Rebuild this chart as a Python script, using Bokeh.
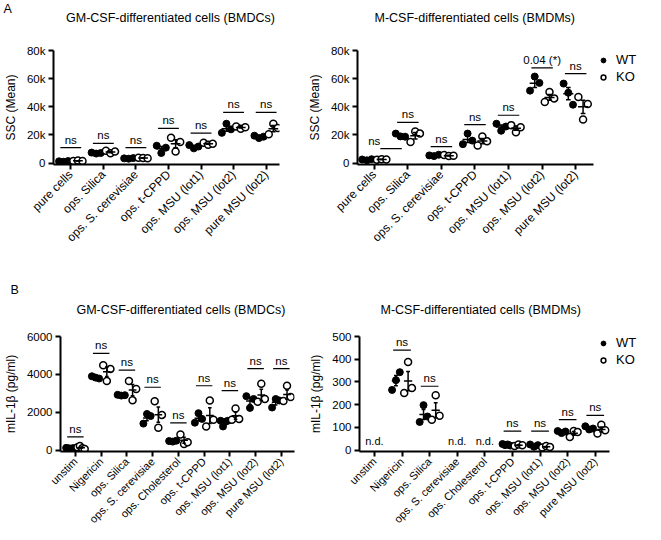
import math
import numpy as np
from bokeh.plotting import figure
from bokeh.models import (Range1d, FixedTicker, NumeralTickFormatter, BasicTickFormatter,
                          Title, Legend, LegendItem)
from bokeh.layouts import row, column
from bokeh.embed import file_html
from bokeh.resources import INLINE
from bokeh.core.properties import value

FONT = "Liberation Sans"
NBSP = "\u00a0"

# ---------------- data ----------------
ssc_categories = ["pure cells", "ops. Silica", "ops. S. cerevisiae", "ops. t-CPPD",
                  "ops. MSU (lot1)", "ops. MSU (lot2)", "pure MSU (lot2)"]
il_categories = ["unstim", "Nigericin", "ops. Silica", "ops. S. cerevisiae", "ops. Cholesterol",
                 "ops. t-CPPD", "ops. MSU (lot1)", "ops. MSU (lot2)", "pure MSU (lot2)"]

# Panel A, BMDCs (SSC mean)
ssc_bmdc_wt = [[1300, 1000, 1500], [7500, 6800, 7200], [3400, 3200, 3600], [12400, 7200, 11000],
               [12800, 10500, 11800], [21500, 28000, 24000], [19500, 17800, 18800]]
ssc_bmdc_ko = [[1600, 1900, 1500], [8800, 7000, 8200], [3800, 3600, 3500], [18000, 8300, 15000],
               [14500, 13000, 13800], [26000, 24500, 25500], [20500, 28000, 25000]]
ssc_bmdc_sig = ["ns", "ns", "ns", "ns", "ns", "ns", "ns"]
ssc_bmdc_sig_y = [11000, 14000, 11000, 24700, 21300, 36000, 36000]

# Panel A, BMDMs (SSC mean)
ssc_bmdm_wt = [[2600, 2000, 2800], [21000, 19000, 18800], [5500, 5000, 6000], [13500, 21000, 16000],
               [28000, 23000, 26000], [51500, 61500, 57000], [56500, 50000, 41500]]
ssc_bmdm_ko = [[2500, 2800, 2600], [15000, 22500, 21000], [5800, 5000, 5200], [12500, 19000, 15500],
               [27000, 22000, 25500], [43500, 50500, 46000], [47000, 31000, 42000]]
ssc_bmdm_sig = ["ns", "ns", "ns", "ns", "ns", "0.04 (*)", "ns"]
ssc_bmdm_sig_y = [10300, 28900, 11800, 27400, 34000, 67700, 63600]

# Panel B, BMDCs (mIL-1beta pg/ml)
il_bmdc_wt = [[120, 100, 80, 110], [3900, 3830, 3780], [2920, 2880, 2900], [1400, 1910, 1800],
              [480, 450, 500], [1450, 1950, 1650], [1550, 1250, 1500, 1550], [2850, 2230, 2700],
              [2250, 2700, 2620]]
il_bmdc_ko = [[150, 220, 100, 60], [4480, 3650, 4290], [3650, 2630, 3230], [2580, 1180, 1860],
              [830, 320, 420], [1250, 2620, 1600], [1600, 2200, 1650], [2550, 3500, 2700],
              [2600, 3400, 2800]]
il_bmdc_sig = ["ns"] * 9
il_bmdc_sig_y = [700, 5110, 4220, 3320, 1440, 3400, 3140, 4300, 4300]

# Panel B, BMDMs (mIL-1beta pg/ml); None = not detected
il_bmdm_wt = [None, [265, 308, 343], [124, 198, 148], None, None, [27, 22, 25, 20],
              [25, 15, 22], [84, 75, 82], [105, 91, 95]]
il_bmdm_ko = [None, [251, 388, 273], [134, 241, 151], None, None, [18, 25, 22],
              [12, 18, 14], [58, 84, 80], [73, 112, 87]]
il_bmdm_sig = [None, "ns", "ns", None, None, "ns", "ns", "ns", "ns"]
il_bmdm_sig_y = [None, 440, 281, None, None, 84, 84, 134, 153]

TITLE_PX = 12.5


def make_panel(cats, wt, ko, sig_text, sig_y, ymax, yticks, yfmt, ylabel, title, letter,
               legend, width, height, borders, xr, axis_end, xlabel_px,
               title_left_px, line_h, n_blank, legend_pos=None, first_sig_shift=0.0):
    n = len(cats)
    bl, br, bt, bb = borders
    ymin = -0.012 * ymax
    p = figure(width=width, height=height, output_backend="svg", toolbar_location=None,
               x_range=Range1d(*xr), y_range=Range1d(ymin, ymax),
               min_border_left=bl, min_border_right=br, min_border_top=bt, min_border_bottom=bb,
               outline_line_color=None)
    p.xgrid.visible = False
    p.ygrid.visible = False

    # points
    wx, wy, kx, ky = [], [], [], []
    for i in range(n):
        if wt[i] is not None:
            offs = np.linspace(-0.36, -0.08, len(wt[i]))
            wx += list(i + offs); wy += list(wt[i])
        if ko[i] is not None:
            offs = np.linspace(0.08, 0.36, len(ko[i]))
            kx += list(i + offs); ky += list(ko[i])
    rw = p.scatter(wx, wy, marker="circle", size=7, fill_color="black", line_color="black")
    rk = p.scatter(kx, ky, marker="circle", size=7, fill_color="white", line_color="black",
                   line_width=1.5)

    # mean +/- SEM
    x0, x1, y0, y1 = [], [], [], []
    for i in range(n):
        for arr, c in ((wt[i], -0.22), (ko[i], 0.22)):
            if arr is None:
                continue
            a = np.array(arr, dtype=float)
            m = a.mean(); s = a.std(ddof=1) / math.sqrt(len(a))
            xc = i + c
            x0 += [xc - 0.15, xc, xc - 0.07, xc - 0.07]
            x1 += [xc + 0.15, xc, xc + 0.07, xc + 0.07]
            y0 += [m, m - s, m - s, m + s]
            y1 += [m, m + s, m - s, m + s]
    p.segment(x0, y0, x1, y1, line_color="black", line_width=1.5)

    # significance
    sx0, sx1, sy, tx, ty, tt = [], [], [], [], [], []
    ndx = []
    for i in range(n):
        if sig_text[i] is None:
            ndx.append(i)
            continue
        sh = first_sig_shift if i == 0 else 0.0
        sx0.append(i + sh - 0.32); sx1.append(i + sh + 0.32); sy.append(sig_y[i])
        tx.append(i); ty.append(sig_y[i]); tt.append(sig_text[i])
    p.segment(sx0, sy, sx1, sy, line_color="black", line_width=1.2)
    p.text(tx, ty, text=tt, text_align="center", text_baseline="bottom", y_offset=-2,
           text_font=value(FONT), text_font_size="11.5px", text_color="black")
    if ndx:
        p.text(ndx, [0] * len(ndx), text=["n.d."] * len(ndx), text_align="center",
               text_baseline="bottom", y_offset=-3, text_font=value(FONT),
               text_font_size="11px", text_color="black")

    # axes
    xa = p.xaxis[0]; ya = p.yaxis[0]
    xa.ticker = FixedTicker(ticks=list(range(n)))
    xa.major_label_overrides = {i: c for i, c in enumerate(cats)}
    xa.major_label_orientation = math.pi / 4
    xa.bounds = (xr[0], axis_end)
    ya.ticker = FixedTicker(ticks=yticks)
    ya.formatter = yfmt
    ya.axis_label = ylabel
    for ax in (xa, ya):
        ax.axis_line_width = 2
        ax.axis_line_color = "black"
        ax.major_tick_line_width = 2
        ax.major_tick_line_color = "black"
        ax.major_tick_out = 5
        ax.major_tick_in = 0
        ax.minor_tick_line_color = None
        ax.major_label_text_font = FONT
        ax.major_label_text_color = "black"
        ax.major_label_standoff = 3
    xa.major_label_text_font_size = xlabel_px
    ya.major_label_text_font_size = "11.5px"
    ya.axis_label_text_font = FONT
    ya.axis_label_text_font_size = "12px"
    ya.axis_label_text_font_style = "normal"
    ya.axis_label_text_color = "black"
    ya.axis_label_standoff = 6

    # title block: panel letter on the first line, title on the second
    if letter:
        pad = int(round((title_left_px + 50) / (0.278 * TITLE_PX)))
        lines = [letter, NBSP * pad + title]
        off = -50
    else:
        lines = [NBSP, title]
        off = title_left_px
    lines += [NBSP] * n_blank
    t = Title(text="\n".join(lines), align="left", offset=off, vertical_align="bottom",
              text_font=FONT, text_font_size=f"{TITLE_PX}px", text_font_style="normal",
              text_color="black", standoff=0, text_line_height=line_h)
    p.add_layout(t, "above")

    if legend:
        leg = Legend(items=[LegendItem(label="WT", renderers=[rw]),
                            LegendItem(label="KO", renderers=[rk])],
                     location=legend_pos, margin=0, padding=0, glyph_width=12,
                     glyph_height=14, label_standoff=7, spacing=2, border_line_color=None,
                     background_fill_alpha=0, label_text_font=FONT,
                     label_text_font_size="13px", label_text_color="black")
        p.add_layout(leg)
    return p


p1 = make_panel(ssc_categories, ssc_bmdc_wt, ssc_bmdc_ko, ssc_bmdc_sig, ssc_bmdc_sig_y,
                80000, [0, 20000, 40000, 60000, 80000], NumeralTickFormatter(format="0a"),
                "SSC (Mean)", "GM-CSF-differentiated cells (BMDCs)", "A", False,
                304, 265, (44, 25, 46, 101), (-0.53, 6.41), 6.41, "12px",
                11, 0.61, 3)
p2 = make_panel(ssc_categories, ssc_bmdm_wt, ssc_bmdm_ko, ssc_bmdm_sig, ssc_bmdm_sig_y,
                80000, [0, 20000, 40000, 60000, 80000], NumeralTickFormatter(format="0a"),
                "SSC (Mean)", "M-CSF-differentiated cells (BMDMs)", "", True,
                341, 265, (51, 0, 46, 101), (-0.5, 8.08), 6.53, "12px",
                17, 0.61, 3, legend_pos=(240, 80), first_sig_shift=0.5)
p3 = make_panel(il_categories, il_bmdc_wt, il_bmdc_ko, il_bmdc_sig, il_bmdc_sig_y,
                6000, [0, 2000, 4000, 6000], BasicTickFormatter(),
                "mIL-1β (pg/ml)", "GM-CSF-differentiated cells (BMDCs)", "B", False,
                304, 267, (44, 10, 71, 79), (-0.58, 8.51), 8.51, "11px",
                15, 1.4, 1)
p4 = make_panel(il_categories, il_bmdm_wt, il_bmdm_ko, il_bmdm_sig, il_bmdm_sig_y,
                500, [0, 100, 200, 300, 400, 500], BasicTickFormatter(),
                "mIL-1β (pg/ml)", "M-CSF-differentiated cells (BMDMs)", "", True,
                341, 267, (55, 0, 71, 79), (-0.54, 9.82), 8.5, "11px",
                21, 1.4, 1, legend_pos=(238, 84))

layout = column(row(p1, p2), row(p3, p4))
open("out.html", "w").write(file_html(layout, INLINE))
